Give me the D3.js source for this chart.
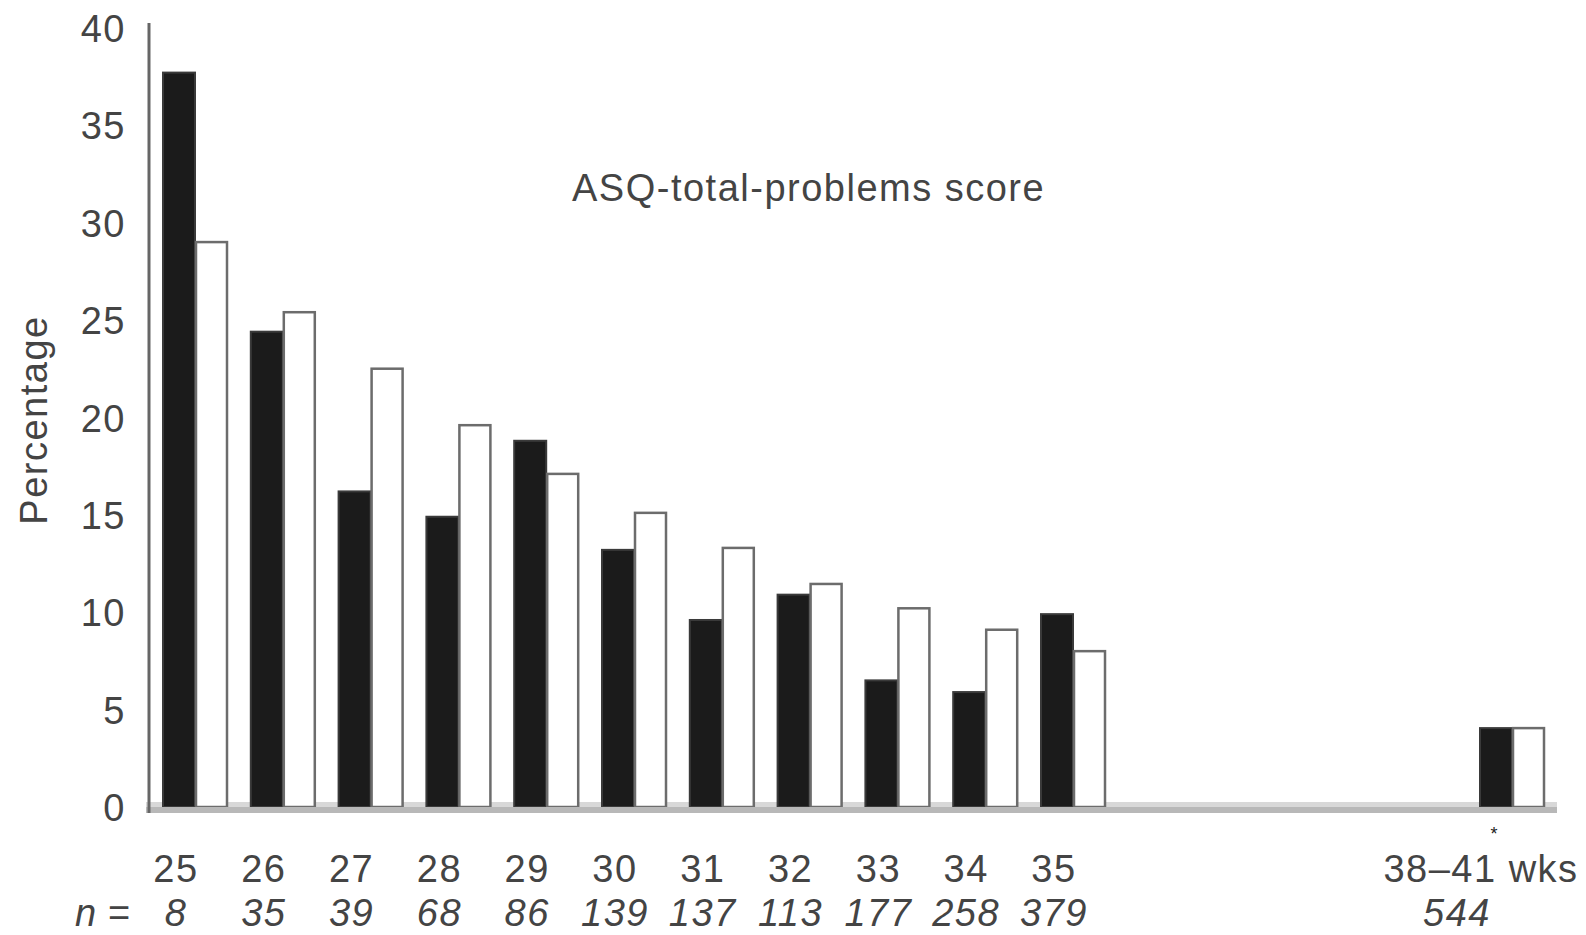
<!DOCTYPE html>
<html>
<head>
<meta charset="utf-8">
<script src="https://cdn.jsdelivr.net/npm/d3@7"></script>
<style>
  html, body { margin: 0; padding: 0; background: #fff; }
  svg { display: block; }
  text { font-family: "Liberation Sans", Arial, sans-serif; fill: #444; letter-spacing: 1.5px; }
</style>
</head>
<body>
<svg id="chart" width="1586" height="935"></svg>
<script>
// ---- data ----
const categories = ["25", "26", "27", "28", "29", "30", "31", "32", "33", "34", "35", "38\u201341 wks"];
const nValues = ["8", "35", "39", "68", "86", "139", "137", "113", "177", "258", "379", "544"];
const blackSeries = [37.7, 24.4, 16.2, 14.9, 18.8, 13.2, 9.6, 10.9, 6.5, 5.9, 9.9, 4.05];
const whiteSeries = [29.0, 25.4, 22.5, 19.6, 17.1, 15.1, 13.3, 11.45, 10.2, 9.1, 8.0, 4.05];
const yTicks = [0, 5, 10, 15, 20, 25, 30, 35, 40];
const titleText = "ASQ-total-problems score";
const yLabel = "Percentage";

// ---- layout ----
const svg = d3.select("#chart");
const axisX = 149;
const y = d3.scaleLinear().domain([0, 40]).range([807, 27.8]);
// slot positions: preterm weeks consecutive, term group after a gap
const slot = i => (i < 11 ? i : 15);
const x = d3.scaleLinear().domain([0, 15]).range([195, 1512]);
const barW = 32;
const lastIdx = categories.length - 1;

// light upper band of baseline (under bars)
svg.append("rect")
  .attr("x", axisX - 3).attr("y", 802).attr("width", 1557 - (axisX - 3)).attr("height", 6)
  .attr("fill", "#d8d8d8");

const groups = svg.append("g").selectAll("g")
  .data(categories.map((c, i) => ({ c, i, b: blackSeries[i], w: whiteSeries[i] })))
  .join("g");

groups.append("rect")
  .attr("x", d => x(slot(d.i)) - barW)
  .attr("y", d => y(d.b))
  .attr("width", barW)
  .attr("height", d => y(0) - y(d.b))
  .attr("fill", "#1b1b1b")
  .attr("stroke", "#3a3a3a")
  .attr("stroke-width", 2);

groups.append("rect")
  .attr("x", d => x(slot(d.i)) + 1)
  .attr("y", d => y(d.w))
  .attr("width", barW - 1)
  .attr("height", d => y(0) - y(d.w))
  .attr("fill", "#fff")
  .attr("stroke", "#6c6c6c")
  .attr("stroke-width", 2.5);

// darker lower band of baseline
svg.append("rect")
  .attr("x", axisX - 3).attr("y", 807).attr("width", 1557 - (axisX - 3)).attr("height", 6)
  .attr("fill", "#b8b8b8");

// y axis
const yAxis = d3.axisLeft(y).tickValues(yTicks).tickSize(0).tickPadding(23);
const gy = svg.append("g").attr("transform", `translate(${axisX},0)`).call(yAxis);
gy.select(".domain").remove();
gy.selectAll("text")
  .attr("dy", "0.36em")
  .style("font-size", "38px")
  .style("font-family", "'Liberation Sans', Arial, sans-serif")
  .attr("fill", "#444");

svg.append("line")
  .attr("x1", axisX).attr("x2", axisX)
  .attr("y1", 23).attr("y2", 813)
  .attr("stroke", "#666").attr("stroke-width", 3);

// x category labels
const shift = i => (i === lastIdx ? -31 : -19);
svg.append("g").selectAll("text")
  .data(categories)
  .join("text")
  .attr("x", (d, i) => x(slot(i)) + shift(i))
  .attr("y", 882)
  .attr("text-anchor", "middle")
  .style("font-size", "38px")
  .text(d => d);

// asterisk above term group
svg.append("text")
  .attr("x", x(slot(lastIdx)) - 18)
  .attr("y", 840)
  .attr("text-anchor", "middle")
  .style("font-size", "18px")
  .style("letter-spacing", "0px")
  .style("fill", "#222")
  .text("*");

// n row
const nShift = i => (i === lastIdx ? -55 : -19);
svg.append("g").selectAll("text")
  .data(nValues)
  .join("text")
  .attr("x", (d, i) => x(slot(i)) + nShift(i))
  .attr("y", 926)
  .attr("text-anchor", "middle")
  .style("font-size", "38px")
  .style("font-style", "italic")
  .text(d => d);

svg.append("text").attr("x", 75).attr("y", 926)
  .style("font-size", "38px").style("font-style", "italic").text("n");
svg.append("text").attr("x", 108).attr("y", 926)
  .style("font-size", "38px").text("=");

// title
svg.append("text")
  .attr("x", 572).attr("y", 201)
  .style("font-size", "38px")
  .text(titleText);

// y label
svg.append("text")
  .attr("transform", "translate(47,420) rotate(-90)")
  .attr("text-anchor", "middle")
  .style("font-size", "38px")
  .text(yLabel);
</script>
</body>
</html>
